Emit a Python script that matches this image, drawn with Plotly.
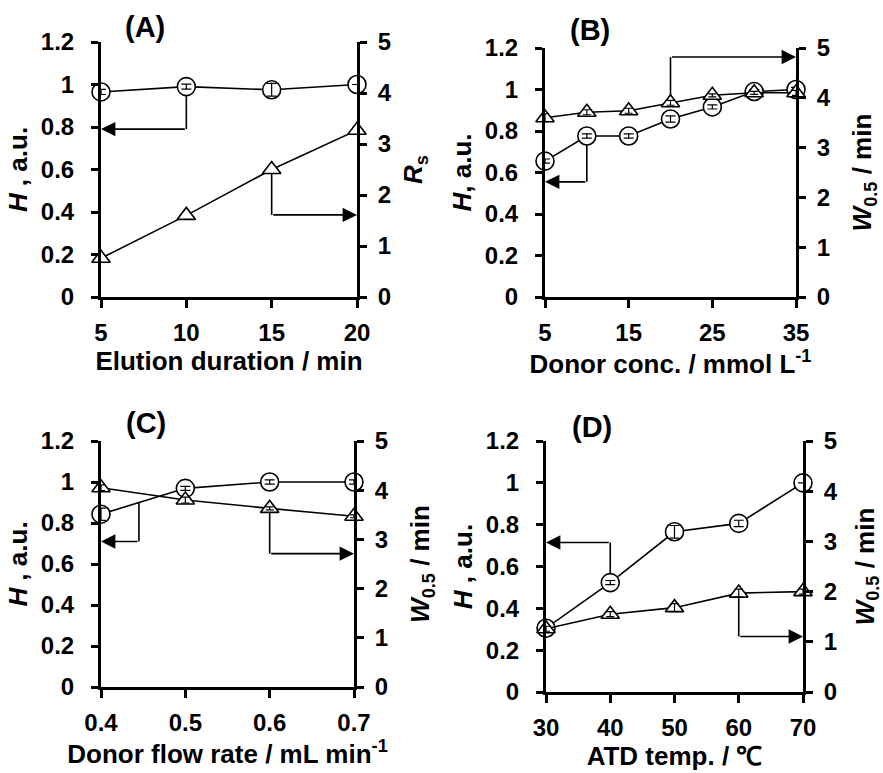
import plotly.graph_objects as go

# ---------------- data ----------------
# (A) Elution duration
a_x = [5, 10, 15, 20]
a_h = [0.965, 0.99, 0.975, 1.0]
a_h_err = [0.012, 0.012, 0.03, 0.0]
a_rs = [0.76, 1.6, 2.5, 3.27]

# (B) Donor conc.
b_x = [5, 10, 15, 20, 25, 30, 35]
b_h = [0.655, 0.776, 0.776, 0.858, 0.916, 0.99, 1.0]
b_h_err = [0.01, 0.01, 0.01, 0.015, 0.01, 0.01, 0.01]
b_w = [3.6, 3.71, 3.74, 3.9, 4.05, 4.1, 4.1]
b_w_err = [0.08, 0.05, 0.05, 0.05, 0.03, 0.03, 0.05]

# (C) Donor flow rate
c_x = [0.4, 0.5, 0.6, 0.7]
c_h = [0.843, 0.969, 1.0, 1.0]
c_h_err = [0.03, 0.01, 0.01, 0.01]
c_w = [4.05, 3.8, 3.63, 3.47]
c_w_err = [0.06, 0.06, 0.03, 0.03]

# (D) ATD temp.
d_x = [30, 40, 50, 60, 70]
d_h = [0.305, 0.523, 0.766, 0.806, 1.0]
d_h_err = [0.01, 0.01, 0.03, 0.015, 0.0]
d_w = [1.26, 1.55, 1.68, 1.97, 2.0]
d_w_err = [0.05, 0.05, 0.08, 0.08, 0.05]

FONT = "Liberation Sans, Arial, Helvetica, sans-serif"
BLACK = "black"

panels = [
    dict(key=1, label="(A)", x=a_x, h=a_h, he=a_h_err, r=a_rs, re=None,
         xrange=[5, 20], xtick=[5, 10, 15, 20], xtitle="Elution duration / min",
         rtitle="<i>R</i><sub>s</sub>", ltitle="<i>H</i> , a.u.", rstand=14,
         xdom=[101/883, 357/883], ydom=[1-297/773, 1-42/773],
         lab=(145, 27),
         arrows=[(10, 0.99, 0.79, 5, "L"), (15, 2.5, 1.61, 20, "R")]),
    dict(key=2, label="(B)", x=b_x, h=b_h, he=b_h_err, r=b_w, re=b_w_err,
         xrange=[5, 35], xtick=[5, 15, 25, 35], xtitle="Donor conc. / mmol L<sup>-1</sup>",
         rtitle="<i>W</i><sub>0.5</sub> / min", ltitle="<i>H</i>, a.u.", rstand=24,
         xdom=[545/883, 796/883], ydom=[1-297/773, 1-48/773],
         lab=(590, 30),
         arrows=[(10, 0.776, 0.555, 5, "L"), (20, 3.9, 4.82, 35, "R")]),
    dict(key=3, label="(C)", x=c_x, h=c_h, he=c_h_err, r=c_w, re=c_w_err,
         xrange=[0.4, 0.7], xtick=[0.4, 0.5, 0.6, 0.7], xtitle="Donor flow rate / mL min<sup>-1</sup>",
         rtitle="<i>W</i><sub>0.5</sub> / min", ltitle="<i>H</i> , a.u.", rstand=24,
         xdom=[101/883, 354/883], ydom=[1-687/773, 1-441/773],
         lab=(146, 423),
         arrows=[(0.445, 0.90, 0.71, 0.4, "L"), (0.6, 3.63, 2.71, 0.7, "R")]),
    dict(key=4, label="(D)", x=d_x, h=d_h, he=d_h_err, r=d_w, re=d_w_err,
         xrange=[30, 70], xtick=[30, 40, 50, 60, 70], xtitle="ATD temp. / \u2103",
         rtitle="<i>W</i><sub>0.5</sub> / min", ltitle="<i>H</i> , a.u.", rstand=24,
         xdom=[546/883, 803/883], ydom=[1-692/773, 1-441/773],
         lab=(592, 427),
         arrows=[(40, 0.523, 0.715, 30, "L"), (60, 1.97, 1.106, 70, "R")]),
]

fig = go.Figure()
layout = dict(
    width=883, height=773,
    margin=dict(l=0, r=0, t=0, b=0),
    paper_bgcolor="white", plot_bgcolor="rgba(0,0,0,0)",
    showlegend=False,
    font=dict(family=FONT, size=24, color=BLACK, weight="bold"),
)
shapes = []
annotations = []

tickfont = dict(family=FONT, size=24, color=BLACK, weight="bold")
titlefont = dict(family=FONT, size=26, color=BLACK, weight="bold")

for p in panels:
    k = p["key"]
    xa = "x" if k == 1 else f"x{k}"
    yl_n = 2 * k - 1
    yr_n = 2 * k
    yl = "y" if yl_n == 1 else f"y{yl_n}"
    yr = f"y{yr_n}"
    xname = "xaxis" if k == 1 else f"xaxis{k}"
    ylname = "yaxis" if yl_n == 1 else f"yaxis{yl_n}"
    yrname = f"yaxis{yr_n}"

    layout[xname] = dict(
        domain=p["xdom"], anchor=yl, range=p["xrange"], tickvals=p["xtick"],
        showline=True, linewidth=3, linecolor=BLACK, ticks="outside", ticklen=8,
        tickwidth=3, tickcolor=BLACK, showgrid=False, zeroline=False,
        tickfont=tickfont, ticklabelstandoff=4,
        title=dict(text=p["xtitle"], font=titlefont, standoff=4),
        automargin=False,
    )
    layout[ylname] = dict(
        domain=p["ydom"], anchor=xa, range=[0, 1.2], dtick=0.2, tick0=0,
        showline=True, linewidth=3, linecolor=BLACK, ticks="outside", ticklen=7,
        tickwidth=3, tickcolor=BLACK, showgrid=False, zeroline=False,
        tickfont=tickfont, ticklabelstandoff=12,
        title=dict(text=p["ltitle"], font=titlefont, standoff=6),
        automargin=False,
    )
    layout[yrname] = dict(
        overlaying=yl, side="right", anchor=xa, range=[0, 5], dtick=1, tick0=0,
        showline=True, linewidth=3, linecolor=BLACK, ticks="outside", ticklen=7,
        tickwidth=3, tickcolor=BLACK, showgrid=False, zeroline=False,
        tickfont=tickfont, ticklabelstandoff=6,
        title=dict(text=p["rtitle"], font=titlefont, standoff=p["rstand"]),
        automargin=False,
    )

    # right-axis series (triangles)
    fig.add_trace(go.Scatter(
        x=p["x"], y=p["r"], xaxis=xa, yaxis=yr, mode="lines+markers",
        line=dict(color=BLACK, width=1.6),
        marker=dict(symbol="triangle-up", size=16, color="white",
                    line=dict(color=BLACK, width=1.6)),
        cliponaxis=False,
    ))
    if p["re"] is not None:
        fig.add_trace(go.Scatter(
            x=p["x"], y=p["r"], xaxis=xa, yaxis=yr, mode="markers",
            marker=dict(size=1, opacity=0),
            error_y=dict(type="data", array=p["re"], color=BLACK, thickness=1.2, width=4),
            cliponaxis=False, hoverinfo="skip",
        ))
    # left-axis series (circles)
    fig.add_trace(go.Scatter(
        x=p["x"], y=p["h"], xaxis=xa, yaxis=yl, mode="lines+markers",
        line=dict(color=BLACK, width=1.6),
        marker=dict(symbol="circle", size=18, color="white",
                    line=dict(color=BLACK, width=1.6)),
        cliponaxis=False,
    ))
    fig.add_trace(go.Scatter(
        x=p["x"], y=p["h"], xaxis=xa, yaxis=yl, mode="markers",
        marker=dict(size=1, opacity=0),
        error_y=dict(type="data", array=p["he"], color=BLACK, thickness=1.2, width=5),
        cliponaxis=False, hoverinfo="skip",
    ))

    # pointer arrows
    for xs, ys, yc, xe, side in p["arrows"]:
        yref = yl if side == "L" else yr
        shapes.append(dict(type="line", xref=xa, yref=yref, x0=xs, x1=xs, y0=ys, y1=yc,
                           line=dict(color=BLACK, width=1.6), layer="below"))
        annotations.append(dict(
            x=xe, y=yc, xref=xa, yref=yref, ax=xs, ay=yc, axref=xa, ayref=yref,
            text="", showarrow=True, arrowhead=2, arrowsize=1.8, arrowwidth=1.6,
            arrowcolor=BLACK, standoff=0))

    # panel label
    lx, ly = p["lab"]
    annotations.append(dict(
        x=lx / 883, y=1 - ly / 773, xref="paper", yref="paper", text=p["label"],
        showarrow=False, xanchor="center", yanchor="middle",
        font=dict(family=FONT, size=29, color=BLACK, weight="bold")))

layout["shapes"] = shapes
layout["annotations"] = annotations
fig.update_layout(**layout)
fig.write_html("out.html", config={"displayModeBar": False},
               post_script="document.body.style.margin='0';document.body.style.overflow='hidden';")
